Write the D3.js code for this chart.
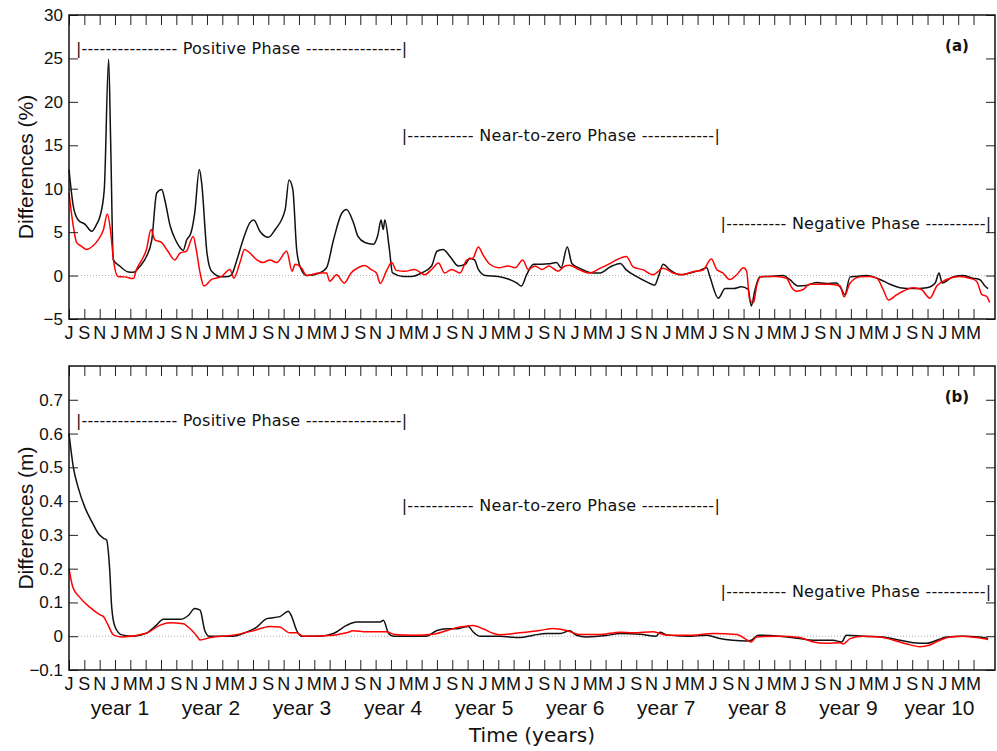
<!DOCTYPE html>
<html>
<head>
<meta charset="utf-8">
<script src="https://cdn.jsdelivr.net/npm/d3@7"></script>
<style>
  body { margin: 0; background: #fff; }
  svg { display: block; }
</style>
</head>
<body>
<div id="chart"></div>
<script>
// month offsets from July 1 of year 1
const monthLabels = ["J", "S", "N", "J", "M", "M"];
const yearLabels = ["year 1", "year 2", "year 3", "year 4", "year 5", "year 6", "year 7", "year 8", "year 9", "year 10"];

// panel (a): differences in %
const pctBlackT = [0,0.56,1.2,2.1,2.96,3.6,4.04,4.6,5.17,5.43,5.78,6.65,7.74,8.4,9.26,10.1,10.8,11.44,12.1,12.5,13.2,13.9,14.5,14.9,15.35,15.9,16.4,17.0,17.3,18.0,18.6,19.9,20.8,21.2,21.9,22.7,23.6,24.1,24.9,26.0,26.9,28.2,28.7,29.2,29.7,30.2,31.0,32.7,33.6,34.5,35.6,36.2,37.1,37.7,38.6,39.7,40.3,40.7,41.0,41.2,41.8,42.2,43.6,44.7,46.0,47.3,48.0,48.8,49.7,50.8,51.7,52.3,52.9,53.4,54.3,56.0,57.3,58.4,59.0,59.7,60.6,61.7,62.6,63.6,64.2,65.0,65.6,66.7,68.4,69.3,70.6,71.9,72.7,74.0,75.3,76.4,76.9,77.5,78.4,79.7,81.0,82.3,83.2,83.6,84.7,85.6,86.7,87.7,88.6,89.0,89.5,90.1,91.4,93.2,94.0,95.1,96.2,97.5,98.8,100.1,100.8,101.2,101.9,102.7,104.0,105.8,107.1,108.4,110.1,111.9,113.0,113.5,113.9,115.3,116.6,117.9,118.8,119.5,119.9];
const pctBlack = [12.2,8.0,6.4,5.9,5.1,5.9,6.8,9.9,24.9,15.6,1.8,1.07,0.42,0.38,1.07,2.2,4.1,9.5,9.9,8.7,5.7,4.1,3.2,2.9,4.1,4.9,7.2,12.2,10.7,2.6,0.5,-0.15,-0.1,0.1,1.8,4.1,6.1,6.4,5.1,4.4,5.3,7.6,11.0,9.9,3.0,0.9,0,0.3,0.9,4.1,7.2,7.6,6.1,4.5,3.8,3.6,4.7,6.4,5.3,6.4,3.0,0.3,-0.1,-0.1,0.3,1.1,2.8,3.0,2.2,1.1,1.3,2.0,1.8,0.7,0,-0.1,-0.4,-0.85,-1.2,0.1,1.3,1.3,1.35,1.5,0.9,3.3,1.4,0.8,0.3,0.3,1.0,1.4,0.65,-0.1,-0.7,-1.1,-0.1,1.3,0.65,0.1,0.3,0.6,0.9,-0.1,-2.6,-1.5,-1.5,-1.3,-1.6,-3.5,-1.6,-0.15,-0.1,0,-0.45,-1.2,-1.15,-0.8,-0.9,-0.85,-1.6,-2.2,-0.15,-0.1,0,-0.45,-1.0,-1.4,-1.5,-1.4,-0.85,0.3,-0.85,-0.15,0,-0.3,-0.45,-1.2,-1.5];

const pctRedT = [0,0.56,1.0,1.6,2.3,3.1,3.8,4.5,5.0,5.4,5.8,6.4,7.3,8.4,8.8,9.5,10.1,10.7,11.2,12.1,12.9,13.8,14.5,15.3,16.2,16.6,17.1,17.6,18.6,19.9,21.0,21.5,22.3,22.9,23.6,24.5,25.3,26.2,27.1,28.4,29.1,29.5,30.3,31.0,32.7,33.6,34.0,34.9,35.9,36.8,37.7,38.6,39.4,40.1,40.6,41.4,42.1,42.7,43.8,45.1,46.4,47.3,48.2,49.0,49.9,51.0,51.9,52.7,53.4,54.0,54.9,56.0,57.3,58.2,59.2,59.9,60.8,61.7,62.6,63.8,64.7,65.3,66.6,67.9,69.3,70.6,71.4,72.7,73.6,74.9,76.2,77.5,78.8,80.1,81.4,82.7,83.8,84.5,85.3,86.2,87.1,88.0,88.4,88.8,89.3,89.7,90.3,92.3,93.6,94.3,94.9,95.8,96.6,97.9,99.2,100.6,101.1,101.9,103.2,104.5,105.4,106.2,106.9,108.0,108.8,110.1,111.2,112.3,113.2,114.5,116.2,117.5,118.4,119.1,119.7,120.1];
const pctRed = [9.5,5.7,3.8,3.4,3.0,3.4,4.1,5.3,7.1,5.3,1.8,-0.1,-0.15,-0.35,0.7,1.8,3.0,5.3,4.1,3.8,2.8,1.8,2.6,2.8,4.5,3.0,0.3,-1.2,-0.45,-0.1,0.7,-0.3,1.5,3.0,2.6,1.8,1.5,1.8,1.5,2.8,0.5,1.3,0.9,0,0.3,0.3,-0.65,0.1,-0.85,0.3,0.9,1.15,0.7,0.3,-0.9,0.5,1.5,0.6,0.5,0.7,0.1,0.7,1.45,0.3,0.7,0.3,1.8,2.0,3.3,2.4,1.3,0.9,1.1,0.9,1.8,0.7,1.1,0.7,1.1,0.5,1.1,1.2,0.65,0.3,0.85,1.4,1.8,2.2,1.0,0.65,0.1,0.85,0.3,0.1,0.45,0.65,1.9,0.7,0.3,-0.45,0.1,0.9,0.5,-2.8,-3.1,-1.2,-0.1,-0.1,-0.3,-1.4,-1.8,-1.6,-1.0,-1.0,-1.0,-1.2,-2.45,-0.85,-0.15,-0.1,-0.3,-1.6,-2.8,-2.2,-1.8,-1.4,-1.6,-2.6,-1.2,-0.45,-0.1,-0.3,-0.65,-2.2,-2.4,-3.1];

// panel (b): differences in m
const mBlackT = [0,0.57,1.2,2.1,2.96,3.8,4.5,4.9,5.3,5.57,6.0,6.9,8.4,10.1,11.4,12.3,14.5,15.6,16.4,17.1,17.7,18.3,21.4,22.7,24.5,25.8,27.5,28.6,29.0,29.7,30.3,32.7,34.5,36.2,37.5,40.6,41.0,41.7,42.3,46.6,48.0,49.3,50.6,52.1,52.7,53.6,56.2,58.8,60.6,62.3,64.1,65.3,66.2,67.5,70.1,71.9,74.5,76.6,77.1,78.0,80.6,83.2,84.9,86.6,88.4,89.0,89.9,92.7,95.3,97.1,99.7,100.8,101.4,103.6,106.2,108.4,110.1,111.9,113.2,114.5,116.6,118.8,119.9];
const mBlack = [0.60,0.50,0.44,0.38,0.34,0.305,0.29,0.285,0.20,0.086,0.028,0.004,0,0.009,0.033,0.05,0.05,0.062,0.082,0.077,0.018,0,0,0.008,0.027,0.052,0.058,0.074,0.061,0.017,0,0,0.008,0.032,0.042,0.042,0.047,0.008,0,0,0.017,0.022,0.022,0.029,0.013,0,0,-0.004,0.003,0.008,0.008,0.016,0.003,-0.002,0.002,0.008,0.006,0,0.012,0.004,0,0.003,-0.007,-0.012,-0.014,-0.012,0.003,0,-0.007,-0.012,-0.012,-0.017,0.003,0,-0.002,-0.012,-0.019,-0.021,-0.012,-0.002,0,-0.002,-0.007];

const mRedT = [0,0.5,1.4,2.7,4.0,4.5,5.1,5.8,6.8,10.1,11.9,13.2,14.9,15.8,16.7,17.1,18.4,21.4,24.0,26.2,27.5,28.8,29.7,30.6,34.5,36.2,37.1,38.8,41.4,42.5,44.9,47.5,49.3,51.0,52.7,54.0,55.4,56.2,58.8,61.4,63.2,64.9,66.7,69.3,71.9,73.6,76.2,78.0,81.4,84.0,87.1,88.4,89.0,89.7,92.7,95.3,97.1,98.8,100.6,101.0,101.9,103.6,105.8,107.6,109.3,111.0,112.3,113.6,114.9,116.6,118.4,119.9];
const mRed = [0.20,0.145,0.115,0.086,0.064,0.058,0.033,0.004,-0.002,0.009,0.033,0.04,0.037,0.022,0,-0.011,-0.004,0.003,0.016,0.029,0.027,0.01,0.01,0,0.003,0.01,0.016,0.013,0.013,0.005,0.003,0.006,0.017,0.027,0.032,0.022,0.008,0.004,0.01,0.017,0.023,0.017,0.005,0.005,0.012,0.01,0.013,0.003,0.003,0.008,0.005,-0.01,-0.017,-0.002,0,-0.004,-0.017,-0.021,-0.019,-0.023,-0.007,0,-0.002,-0.012,-0.023,-0.031,-0.026,-0.012,-0.002,0,-0.004,-0.01];

// phase annotations
const phaseNames = ["Positive Phase", "Near-to-zero Phase", "Negative Phase"];
const phaseStart = [0.9, 43.4, 85.0];
const phaseEnd = [44.1, 84.9, 120.3];
const phaseDashes = [[16, 16], [11, 12], [10, 10]];
const phaseLevelPct = [26.2, 16.1, 6.0];
const phaseLevelM = [0.639, 0.386, 0.132];

const width = 997, height = 751;
const left = 69, right = 995;

const svg = d3.select("#chart").append("svg")
    .attr("width", width)
    .attr("height", height)
    .style("font-family", "'Liberation Sans', Arial, sans-serif");

const x = d3.scaleLinear().domain([0, 120.8]).range([left, right]);
const monthTicks = d3.range(0, 120, 2);

const panels = [
  {top: 15, bottom: 319, domain: [-5, 30], ticks: d3.range(-5, 31, 5), fmt: d => d < 0 ? "\u2212" + Math.abs(d) : d,
   title: "Differences (%)", label: "(a)", series: [[pctBlackT, pctBlack, "#111"], [pctRedT, pctRed, "#ff0000"]], levels: phaseLevelPct},
  {top: 366, bottom: 670, domain: [-0.1, 0.8], ticks: d3.range(-1, 8).map(d => d / 10), fmt: d => d < 0 ? "\u2212" + Math.abs(d) : (d === 0 ? "0" : d.toFixed(1)),
   title: "Differences (m)", label: "(b)", series: [[mBlackT, mBlack, "#111"], [mRedT, mRed, "#ff0000"]], levels: phaseLevelM}
];

panels.forEach(p => {
  const y = d3.scaleLinear().domain(p.domain).range([p.bottom, p.top]);
  const g = svg.append("g");

  // zero line
  g.append("line")
      .attr("x1", left).attr("x2", right)
      .attr("y1", y(0)).attr("y2", y(0))
      .attr("stroke", "#999").attr("stroke-width", 0.8)
      .attr("stroke-dasharray", "1,2");

  // series
  p.series.forEach(([ts, vs, col]) => {
    const line = d3.line()
        .x((d, i) => x(ts[i]))
        .y(d => y(d))
        .curve(d3.curveMonotoneX);
    g.append("path")
        .attr("d", line(vs))
        .attr("fill", "none")
        .attr("stroke", col)
        .attr("stroke-width", 1.5)
        .attr("stroke-linejoin", "round");
  });

  // axes with inward ticks
  g.append("g")
      .attr("transform", `translate(0,${p.bottom})`)
      .call(d3.axisTop(x).tickValues(monthTicks).tickSize(10).tickFormat(""));
  g.append("g")
      .attr("transform", `translate(0,${p.top})`)
      .call(d3.axisBottom(x).tickValues(monthTicks).tickSize(10).tickFormat(""));
  g.append("g")
      .attr("transform", `translate(${left},0)`)
      .call(d3.axisRight(y).tickValues(p.ticks).tickSize(9).tickFormat(""));
  g.append("g")
      .attr("transform", `translate(${right},0)`)
      .call(d3.axisLeft(y).tickValues(p.ticks).tickSize(9).tickFormat(""));
  g.selectAll(".domain").remove();
  g.selectAll(".tick line").attr("stroke", "#222").attr("stroke-width", 1);

  // box
  g.append("rect")
      .attr("x", left).attr("y", p.top)
      .attr("width", right - left).attr("height", p.bottom - p.top)
      .attr("fill", "none").attr("stroke", "#111").attr("stroke-width", 1.5);

  // y tick labels
  g.selectAll(".ylab").data(p.ticks).enter().append("text")
      .attr("x", left - 6)
      .attr("y", d => y(d))
      .attr("dy", "0.35em")
      .attr("text-anchor", "end")
      .style("font-size", "17px")
      .attr("fill", "#111")
      .text(p.fmt);

  // month labels
  g.selectAll(".mlab").data(monthTicks).enter().append("text")
      .attr("x", d => x(d))
      .attr("y", p.bottom + 20)
      .attr("text-anchor", "middle")
      .style("font-size", "18px")
      .attr("fill", "#111")
      .text((d, i) => monthLabels[i % 6]);

  // y title
  g.append("text")
      .attr("transform", `translate(33,${(p.top + p.bottom) / 2}) rotate(-90)`)
      .attr("text-anchor", "middle")
      .style("font-size", "21px")
      .attr("fill", "#111")
      .text(p.title);

  // panel label
  g.append("text")
      .attr("x", right - 38)
      .attr("y", p.top + 36)
      .attr("text-anchor", "middle")
      .style("font-family", "'DejaVu Sans', sans-serif")
      .style("font-weight", "bold")
      .style("font-size", "15px")
      .attr("fill", "#111")
      .text(p.label);

  // phase annotations
  phaseNames.forEach((name, i) => {
    const txt = "|" + "-".repeat(phaseDashes[i][0]) + " " + name + " " + "-".repeat(phaseDashes[i][1]) + "|";
    g.append("text")
        .attr("x", x(phaseStart[i]))
        .attr("y", y(p.levels[i]))
        .attr("dy", "0.35em")
        .attr("textLength", x(phaseEnd[i]) - x(phaseStart[i]))
        .attr("lengthAdjust", "spacing")
        .style("font-family", "'DejaVu Sans', sans-serif")
        .style("font-size", "16px")
        .attr("fill", "#111")
        .text(txt);
  });
});

// year labels under the lower panel
const yearBand = d3.scaleBand().domain(yearLabels).range([x(0.7), x(119.5)]);
svg.selectAll(".year").data(yearLabels).enter().append("text")
    .attr("x", d => yearBand(d) + yearBand.bandwidth() / 2)
    .attr("y", 715)
    .attr("text-anchor", "middle")
    .style("font-size", "21px")
    .attr("fill", "#111")
    .text(d => d);

svg.append("text")
    .attr("x", (left + right) / 2)
    .attr("y", 742)
    .attr("text-anchor", "middle")
    .style("font-family", "'DejaVu Sans', sans-serif")
    .style("font-size", "20px")
    .attr("fill", "#111")
    .text("Time (years)");
</script>
</body>
</html>
